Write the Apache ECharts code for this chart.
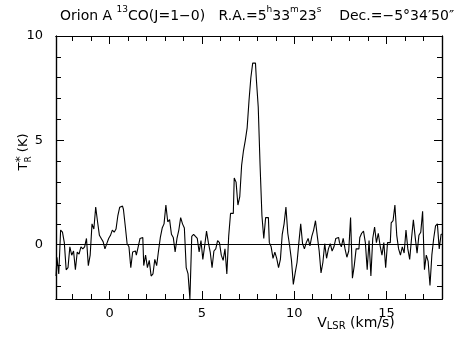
<!DOCTYPE html>
<html><head><meta charset="utf-8">
<script src="https://cdn.jsdelivr.net/npm/echarts@6/dist/echarts.min.js"></script>
<style>html,body{margin:0;padding:0;background:#fff}#c{width:462px;height:345px}</style>
</head><body><div id="c"></div>
<script>
// ---- data ----
const titleParts = [
  ['n', 'Orion A '], ['p', '13'], ['n', 'CO(J=1−0)   R.A.=5'], ['p', 'h'], ['n', '33'], ['p', 'm'],
  ['n', '23'], ['p', 's'], ['n', '    Dec.=−5°34′50″']
];
const yAxisTitle = ['T', 'R', '*', ' (K)'];
const xAxisTitle = ['V', 'LSR', ' (km/s)'];
const xTickLabels = [0, 5, 10, 15];
const yTickLabels = [0, 5, 10];
const xMinorTicks = [-2, -1, 0, 1, 2, 3, 4, 5, 6, 7, 8, 9, 10, 11, 12, 13, 14, 15, 16, 17];
const yMinorTicks = [-2, -1, 0, 1, 2, 3, 4, 5, 6, 7, 8, 9];
const xRange = [-2.9, 18];
const yRange = [-2.6, 10];
const velStart = -2.9;      // km/s, first channel
const velStep = 0.1;        // km/s, channel width
const tempK = [
  -1.5, -0.6, -1.4, 0.7, 0.6, 0.1, -1.2, -1.1, -0.1, -0.5,
  -0.3, -1.2, -0.35, -0.45, -0.1, -0.2, -0.1, 0.3, -1.0, -0.5,
  1.0, 0.75, 1.8, 1.1, 0.45, 0.3, 0.15, -0.2, 0.05, 0.3,
  0.45, 0.7, 0.6, 0.75, 1.4, 1.8, 1.85, 1.7, 0.9, 0.05,
  -0.1, -1.1, -0.35, -0.3, -0.5, -0.1, 0.3, 0.35, -1.0, -0.5,
  -1.1, -0.75, -1.5, -1.4, -0.7, -1.0, -0.3, 0.35, 0.8, 1.0,
  1.9, 1.1, 1.2, 0.5, 0.35, -0.35, 0.3, 0.7, 1.3, 1.0,
  0.8, -1.1, -1.4, -2.6, 0.4, 0.5, 0.4, 0.3, -0.35, 0.2,
  -0.7, -0.05, 0.65, 0.1, -0.35, -1.1, -0.3, -0.2, 0.2, 0.1,
  -0.5, -0.75, -0.2, -1.4, 0.4, 1.5, 1.5, 3.2, 3.0, 1.9,
  2.3, 3.8, 4.5, 5.0, 5.6, 6.9, 8.0, 8.7, 8.7, 7.9,
  6.6, 3.8, 1.4, 0.3, 1.3, 1.3, 0.1, -0.1, -0.65, -0.35,
  -0.65, -1.1, -0.7, 0.5, 1.0, 1.8, 0.55, -0.05, -0.75, -1.9,
  -1.35, -0.85, 0.1, 1.0, 0.05, -0.2, 0.1, 0.3, -0.05, 0.4,
  0.7, 1.15, 0.4, -0.3, -1.35, -0.85, 0.05, -0.65, -0.2, 0.05,
  -0.3, -0.1, 0.3, 0.35, 0.1, -0.1, 0.3, -0.2, -0.6, -0.3,
  1.3, -1.6, -1.0, -0.2, -0.2, 0.35, 0.55, 0.65, 0.1, -1.2,
  0.2, -1.5, 0.3, 0.85, 0.1, 0.55, -0.05, -0.5, 0.1, -1.1,
  0.1, 0.1, 1.05, 1.15, 1.9, 0.45, -0.2, -0.5, -0.1, -0.4,
  0.7, -0.2, -0.7, 0.3, 1.2, 0.35, -0.4, 0.45, 0.6, 1.6,
  -1.2, -0.5, -0.8, -1.95, -0.5, 0.3, 0.9, 1.0, -0.2, 0.5
];

// ---- chart ----
const FONT = 'DejaVu Sans';
const spectrum = tempK.map((t, i) => [Math.round((velStart + i * velStep) * 10) / 10, t]);
const gridRect = { left: 56, right: 20, top: 36, bottom: 46, containLabel: false };

function ax(gridIndex, position, range, ticks, len, labels, labelExtra) {
  return {
    type: 'value', gridIndex: gridIndex, position: position, min: range[0], max: range[1],
    splitLine: { show: false },
    axisLine: { show: true, onZero: false, lineStyle: { color: '#000', width: 1.2 } },
    axisTick: { show: true, inside: true, length: len, customValues: ticks, lineStyle: { color: '#000', width: 1 } },
    axisLabel: labels ? Object.assign({ show: true, customValues: labels, color: '#000', fontFamily: FONT, fontSize: 13 }, labelExtra)
                      : { show: false }
  };
}

const chart = echarts.init(document.getElementById('c'), null, { renderer: 'canvas' });
chart.setOption({
  animation: false,
  backgroundColor: '#fff',
  grid: [Object.assign({}, gridRect), Object.assign({}, gridRect)],
  xAxis: [
    ax(0, 'bottom', xRange, xMinorTicks, 5, null),
    ax(0, 'top', xRange, xMinorTicks, 5, null),
    ax(1, 'bottom', xRange, xTickLabels, 8, xTickLabels, { margin: 8 }),
    ax(1, 'top', xRange, xTickLabels, 8, null)
  ],
  yAxis: [
    ax(0, 'left', yRange, yMinorTicks, 5, null),
    ax(0, 'right', yRange, yMinorTicks, 5, null),
    ax(1, 'left', yRange, yTickLabels, 8, yTickLabels, { margin: 13 }),
    ax(1, 'right', yRange, yTickLabels, 8, null)
  ],
  series: [{
    type: 'line',
    xAxisIndex: 0, yAxisIndex: 0,
    step: 'middle',
    data: spectrum,
    showSymbol: false,
    symbol: 'none',
    lineStyle: { color: '#000', width: 1.1 },
    markLine: {
      silent: true,
      symbol: ['none', 'none'],
      label: { show: false },
      lineStyle: { color: '#000', width: 1.2, type: 'solid' },
      data: [{ yAxis: 0 }]
    }
  }],
  graphic: [
    { type: 'text', left: 60, top: 5,
      style: {
        text: titleParts.map(p => '{' + p[0] + '|' + p[1] + '}').join(''),
        fill: '#000',
        rich: {
          n: { fontFamily: FONT, fontSize: 14, lineHeight: 18, verticalAlign: 'bottom' },
          p: { fontFamily: FONT, fontSize: 9, lineHeight: 18, verticalAlign: 'top' }
        }
      } },
    { type: 'text', x: 24, y: 152, rotation: Math.PI / 2,
      style: {
        text: '{t|' + yAxisTitle[0] + '}{s|' + yAxisTitle[1] + '}{p|' + yAxisTitle[2] + '}{n|' + yAxisTitle[3] + '}',
        align: 'center', verticalAlign: 'middle', fill: '#000',
        rich: {
          t: { fontFamily: FONT, fontSize: 13, lineHeight: 18, verticalAlign: 'middle' },
          s: { fontFamily: FONT, fontSize: 9, lineHeight: 18, verticalAlign: 'bottom' },
          p: { fontFamily: FONT, fontSize: 12, lineHeight: 18, verticalAlign: 'top', padding: [0, 0, 0, -6] },
          n: { fontFamily: FONT, fontSize: 13, lineHeight: 18, verticalAlign: 'middle' }
        }
      } },
    { type: 'text', x: 356, y: 323,
      style: {
        text: '{v|' + xAxisTitle[0] + '}{s|' + xAxisTitle[1] + '}{n|' + xAxisTitle[2] + '}',
        align: 'center', verticalAlign: 'middle', fill: '#000',
        rich: {
          v: { fontFamily: FONT, fontSize: 14, lineHeight: 16, verticalAlign: 'middle' },
          s: { fontFamily: FONT, fontSize: 10, lineHeight: 16, verticalAlign: 'bottom' },
          n: { fontFamily: FONT, fontSize: 14, lineHeight: 16, verticalAlign: 'middle' }
        }
      } }
  ]
});
</script>
</body></html>
